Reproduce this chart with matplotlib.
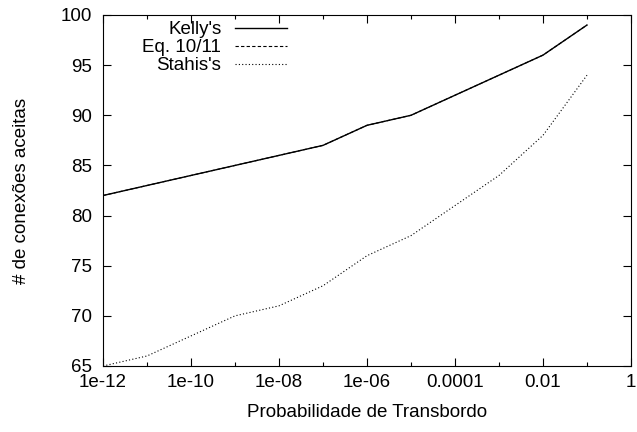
import matplotlib
matplotlib.use("Agg")
import matplotlib.pyplot as plt
from matplotlib.ticker import FixedLocator, FixedFormatter, NullFormatter

# data (Eq. 10/11 lies under Kelly's curve)
prob = [1e-12, 1e-11, 1e-10, 1e-9, 1e-8, 1e-7, 1e-6, 1e-5, 1e-4, 1e-3, 1e-2, 1e-1]
kelly = [82, 83, 84, 85, 86, 87, 89, 90, 92, 94, 96, 99]
eq1011 = [82, 83, 84, 85, 86, 87, 89, 90, 92, 94, 96, 99]
stahis = [65, 66, 68, 70, 71, 73, 76, 78, 81, 84, 88, 94]

xtick_vals = [1e-12, 1e-10, 1e-8, 1e-6, 1e-4, 1e-2, 1]
xtick_labels = ['1e-12', '1e-10', '1e-08', '1e-06', '0.0001', '0.01', '1']
xminor_vals = [1e-11, 1e-9, 1e-7, 1e-5, 1e-3, 1e-1]

plt.rcParams['font.family'] = ['Liberation Sans', 'DejaVu Sans']
plt.rcParams['font.size'] = 13.5

fig = plt.figure(figsize=(6.37, 4.32), dpi=100)
# axes box in pixels: left 103, right 631, top 15, bottom 366
ax = fig.add_axes([103 / 637, 1 - 366 / 432, 528 / 637, 351 / 432])

ax.plot(prob, kelly, color='black', lw=1.0, label="Kelly's")
ax.plot(prob, eq1011, color='black', lw=0.8, dashes=(3, 2), label='Eq. 10/11')
ax.plot(prob, stahis, color='black', lw=0.8, dashes=(1, 2), label="Stahis's")

ax.set_xscale('log')
ax.set_xlim(1e-12, 1)
ax.set_ylim(65, 100)
ax.xaxis.set_major_locator(FixedLocator(xtick_vals))
ax.xaxis.set_major_formatter(FixedFormatter(xtick_labels))
ax.xaxis.set_minor_locator(FixedLocator(xminor_vals))
ax.xaxis.set_minor_formatter(NullFormatter())
ax.set_yticks(range(65, 101, 5))

ax.tick_params(which='both', direction='in', top=True, right=True, width=0.8)
ax.tick_params(which='major', length=6, labelsize=13.5)
ax.tick_params(axis='x', which='major', pad=6)
ax.tick_params(axis='y', which='major', pad=8)
ax.tick_params(which='minor', length=3)
for s in ax.spines.values():
    s.set_linewidth(0.8)

ax.set_xlabel('Probabilidade de Transbordo', fontsize=13.5, labelpad=9)
ax.set_ylabel('# de conexões aceitas', fontsize=13.5, labelpad=22)

leg = ax.legend(loc='upper right', bbox_to_anchor=(287 / 637, 1 - 21 / 432),
                bbox_transform=fig.transFigure, frameon=False,
                markerfirst=False, handlelength=2.8, fontsize=13.5,
                labelspacing=0.05, borderaxespad=0, borderpad=0,
                handletextpad=0.7)
for t in leg.get_texts():
    t.set_ha('right')

fig.savefig('out.png', dpi=100)
